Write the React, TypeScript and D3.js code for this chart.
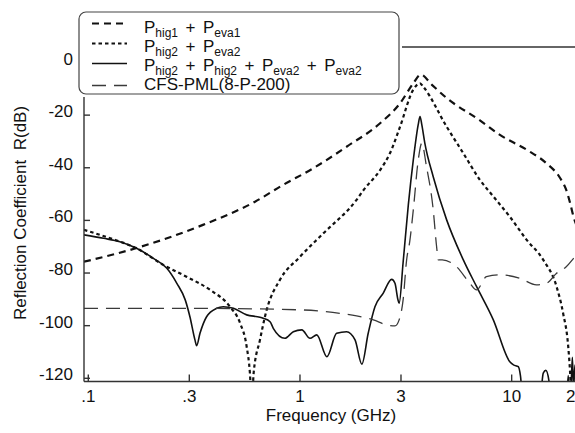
import React from "react";
import * as d3 from "d3";

// ---------- data ----------
// Curve 1: P_hig1 + P_eva1 (medium dashes)
const f1 = [0.0954, 0.169, 0.348, 0.613, 0.82, 1.155, 1.66, 2.39, 2.97, 3.43, 3.72, 4.2, 4.93, 7.08, 8.8, 11.8, 14.6, 16.9, 18.1, 18.9, 19.6, 20.5];
const v1 = [-75.7, -70.5, -61.7, -52.9, -46.8, -40.2, -32, -23.1, -15.5, -7.9, -4.6, -8.5, -13.5, -22, -27.5, -33.2, -38.3, -43.8, -48.4, -53.5, -58.6, -63];

// Curve 2: P_hig2 + P_eva2 (short dashes)
const f2 = [0.0954, 0.127, 0.169, 0.226, 0.291, 0.376, 0.467, 0.521, 0.56, 0.58, 0.592, 0.604, 0.647, 0.696, 0.804, 1.0, 1.29, 1.85, 2.0, 2.39, 2.66, 2.97, 3.42, 3.69, 3.82, 4.93, 5.91, 7.08, 8.19, 9.8, 11.77, 14.1, 16.3, 17.5, 18.5, 18.85, 19.0, 19.2];
const v2 = [-63.6, -66.8, -70.6, -76.9, -81.4, -86.4, -92.8, -99, -108, -118, -130, -118, -105.4, -94, -82.6, -73.8, -64.9, -52.2, -48.4, -40.9, -34.5, -24.4, -10.5, -7.9, -9.2, -24.4, -34.5, -44.6, -50.9, -58.6, -67.4, -75, -85.2, -95.3, -108, -116.9, -122, -128];

// Curve 3: P_hig2 + P_hig2 + P_eva2 + P_eva2 (solid)
const f3 = [0.0954, 0.118, 0.141, 0.169, 0.203, 0.235, 0.262, 0.287, 0.302, 0.319, 0.325, 0.337, 0.362, 0.404, 0.434, 0.485, 0.56, 0.647, 0.67, 0.722, 0.748, 0.849, 0.93, 1.02, 1.115, 1.2, 1.34, 1.49, 1.66, 1.82, 1.96, 2.1, 2.26, 2.47, 2.71, 2.81, 2.9, 2.94, 3.07, 3.25, 3.43, 3.62, 3.69, 3.76, 3.89, 4.26, 4.93, 5.91, 6.83, 8.19, 9.8, 10.2, 10.75, 11.0, 11.3, 13.6, 14.1, 14.5, 15.0, 15.3, 18.2, 18.5, 18.7, 19.1, 19.35, 19.6, 19.9, 20.5];
const v3 = [-65.5, -66.8, -68.1, -70.6, -74.4, -78.2, -83.9, -90.2, -96.6, -105.4, -107.6, -102.9, -96.6, -93.4, -92.8, -93.4, -95.9, -96.8, -97.2, -98.5, -101, -104.8, -102.3, -101.6, -104.8, -103.5, -111.8, -102.9, -102.3, -105.4, -114.6, -102.9, -92.8, -87.7, -82.4, -83.9, -90, -91.5, -76, -54, -37, -23.5, -20.5, -23.5, -30.7, -43.4, -59.8, -75, -85.2, -97.8, -113.7, -114.9, -115.6, -119, -128, -128, -118, -117, -121, -128, -128, -119, -127, -122, -112, -124, -115, -124];

// Curve 4: CFS-PML(8-P-200) (long dashes)
const f4 = [0.0954, 0.3, 1.0, 1.545, 1.85, 2.22, 2.57, 2.81, 2.94, 3.07, 3.19, 3.3, 3.43, 3.62, 3.76, 3.96, 4.26, 4.42, 4.5, 4.7, 5.49, 6.35, 6.83, 7.6, 8.9, 10.9, 13.1, 14.6, 16.3, 18.1, 19.6, 20.5];
const v4 = [-93.4, -93.4, -94, -95.3, -96.3, -97.8, -99.7, -100.1, -97.8, -90.2, -75, -68, -56, -37, -30.7, -39.6, -56, -70, -75, -75, -77.6, -83.9, -86.4, -81.4, -80.7, -82, -84.5, -83.9, -80.1, -77.6, -74.4, -72.5];

const xTicks = [0.1, 0.3, 1, 3, 10, 20];
const xTickLabels = [".1", ".3", "1", "3", "10", "20"];
const yTicks = [0, -20, -40, -60, -80, -100, -120];

type Part = { t: string; sub?: boolean; plus?: boolean };
const legendLabels: Part[][] = [
  [{ t: "P" }, { t: "hig1", sub: true }, { t: "+", plus: true }, { t: "P" }, { t: "eva1", sub: true }],
  [{ t: "P" }, { t: "hig2", sub: true }, { t: "+", plus: true }, { t: "P" }, { t: "eva2", sub: true }],
  [
    { t: "P" }, { t: "hig2", sub: true }, { t: "+", plus: true },
    { t: "P" }, { t: "hig2", sub: true }, { t: "+", plus: true },
    { t: "P" }, { t: "eva2", sub: true }, { t: "+", plus: true },
    { t: "P" }, { t: "eva2", sub: true },
  ],
  [{ t: "CFS-PML(8-P-200)" }],
];

// ---------- layout ----------
const W = 575;
const H = 433;
const FONT = "'Liberation Sans', Arial, Helvetica, sans-serif";

const x = d3.scaleLog().domain([0.1, 20]).range([88.3, 575.4]);
const y = d3.scaleLinear().domain([-120, 0]).range([378.3, 62.5]);

const plotLeft = 84;
const plotRight = W;
const plotTop = 47;
const plotBottom = 381.5;

const styles = [
  { dash: "7,5", width: 2.2, color: "#111" },
  { dash: "3.5,3", width: 2.2, color: "#111" },
  { dash: "", width: 1.6, color: "#111" },
  { dash: "14,8", width: 1.3, color: "#3a3a3a" },
];

const series = [
  { f: f1, v: v1 },
  { f: f2, v: v2 },
  { f: f3, v: v3 },
  { f: f4, v: v4 },
];

const line = d3
  .line<[number, number]>()
  .x((d) => x(d[0]))
  .y((d) => y(d[1]))
  .curve(d3.curveMonotoneX);

export default function App() {
  const legendRowsY = [23.5, 43.5, 63.5, 85.5];
  const legendBase = [32.5, 51.5, 70.5, 89.5];
  return (
    <svg
      width={W}
      height={H}
      style={{ position: "absolute", left: 0, top: 0, background: "#fff" }}
      fontFamily={FONT}
    >
      <defs>
        <clipPath id="plotclip">
          <rect x={plotLeft} y={plotTop} width={plotRight - plotLeft} height={plotBottom - plotTop} />
        </clipPath>
      </defs>
      <rect x={0} y={0} width={W} height={H} fill="#fff" />

      {/* curves */}
      <g clipPath="url(#plotclip)" fill="none">
        {series.map((s, i) => (
          <path
            key={i}
            d={line(s.f.map((f, j) => [f, s.v[j]] as [number, number])) || ""}
            stroke={styles[i].color}
            strokeWidth={styles[i].width}
            strokeDasharray={styles[i].dash || undefined}
            strokeLinejoin="round"
          />
        ))}
      </g>

      {/* frame */}
      <g stroke="#333" strokeWidth={1.4} fill="none">
        <line x1={plotLeft} x2={plotRight} y1={plotBottom} y2={plotBottom} />
        <line x1={plotLeft} x2={plotLeft} y1={plotTop} y2={plotBottom} />
        <line x1={plotLeft} x2={plotRight} y1={plotTop} y2={plotTop} />
        {xTicks.map((t) => (
          <line key={t} x1={x(t)} x2={x(t)} y1={plotBottom} y2={plotBottom - 7} />
        ))}
        {yTicks.map((t) => (
          <line key={t} x1={plotLeft} x2={plotLeft + 6} y1={y(t)} y2={y(t)} />
        ))}
      </g>

      {/* tick labels */}
      <g fontSize={17} fill="#111">
        {xTicks.map((t, i) => (
          <text key={t} x={x(t)} y={402} textAnchor="middle">
            {xTickLabels[i]}
          </text>
        ))}
        {yTicks.map((t) => (
          <text key={t} x={73} y={y(t) + 2} textAnchor="end">
            {t}
          </text>
        ))}
      </g>

      {/* axis titles */}
      <text x={331} y={420.5} fontSize={17} textAnchor="middle" fill="#111">
        Frequency (GHz)
      </text>
      <text
        transform="translate(25.5,213) rotate(-90)"
        fontSize={17}
        textAnchor="middle"
        fill="#111"
        style={{ whiteSpace: "pre" }}
      >
        {"Reflection Coefficient  R(dB)"}
      </text>

      {/* legend */}
      <rect x={76} y={9} width={326} height={88} fill="#fff" />
      <rect x={79} y={12} width={320} height={82} rx={7} ry={7} fill="#fff" stroke="#444" strokeWidth={1.2} />
      {legendLabels.map((parts, i) => (
        <g key={i}>
          <line
            x1={92}
            x2={127}
            y1={legendRowsY[i]}
            y2={legendRowsY[i]}
            stroke={styles[i].color}
            strokeWidth={styles[i].width}
            strokeDasharray={styles[i].dash || undefined}
          />
          <text x={144} y={legendBase[i]} fontSize={17} fill="#111">
            {parts.map((p, k) => {
              const prevSub = k > 0 && parts[k - 1].sub;
              const dy = p.sub ? 4 : prevSub ? -4 : 0;
              const dx = p.plus ? 7.5 : k > 0 && parts[k - 1].plus ? 7.5 : 0;
              return (
                <tspan key={k} dx={dx} dy={dy} fontSize={p.sub ? 12 : 17}>
                  {p.t}
                </tspan>
              );
            })}
          </text>
        </g>
      ))}
    </svg>
  );
}
